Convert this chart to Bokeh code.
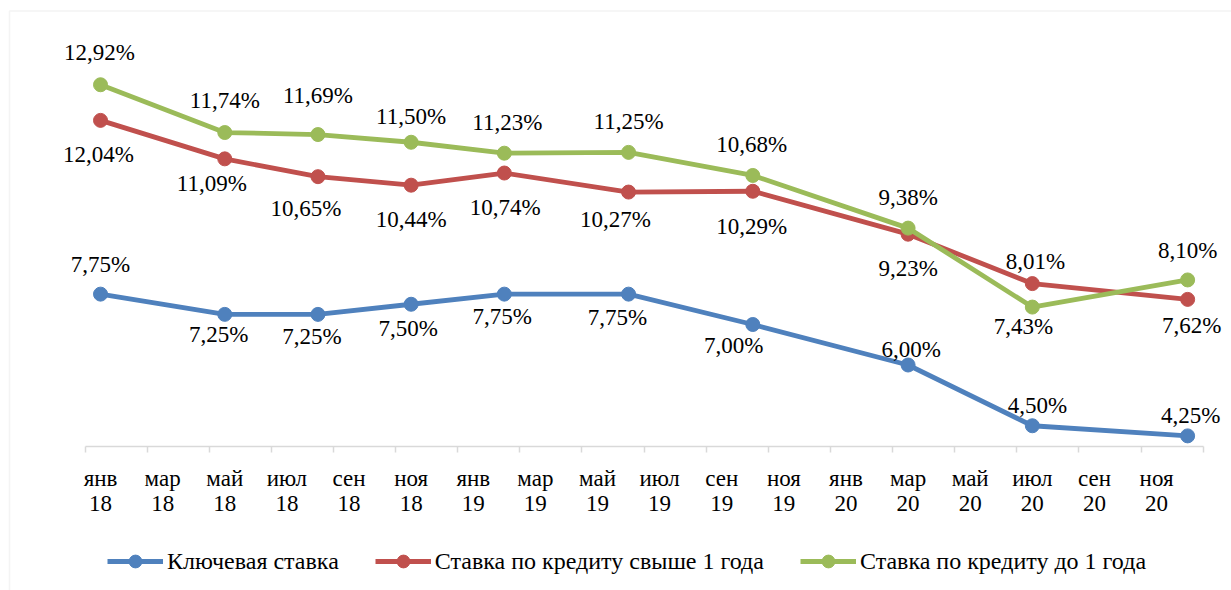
from bokeh.plotting import figure
from bokeh.models import Range1d, FixedTicker, BoxAnnotation, Legend, LegendItem, ColumnDataSource
from bokeh.core.properties import value
from bokeh.embed import file_html
from bokeh.resources import INLINE

# ---- data ----
dates = ["2018-01", "2018-05", "2018-08", "2018-11", "2019-02",
         "2019-06", "2019-10", "2020-03", "2020-07", "2020-12"]
key_rate = [7.75, 7.25, 7.25, 7.50, 7.75, 7.75, 7.00, 6.00, 4.50, 4.25]
loan_over_1y = [12.04, 11.09, 10.65, 10.44, 10.74, 10.27, 10.29, 9.23, 8.01, 7.62]
loan_under_1y = [12.92, 11.74, 11.69, 11.50, 11.23, 11.25, 10.68, 9.38, 7.43, 8.10]
series_names = ["Ключевая ставка", "Ставка по кредиту свыше 1 года", "Ставка по кредиту до 1 года"]
tick_months = ["янв", "мар", "май", "июл", "сен", "ноя"]
tick_years = ["18", "19", "20"]

# ---- layout / style ----
W, H = 1231, 590
colors = ["#4F81BD", "#C0504D", "#9BBB59"]
FONT = "Liberation Serif"
FS = "23px"
# pixel geometry of the plotting area (canvas px)
X_LEFT, PX_MONTH = 84.5, 31.06      # left edge of axis, px per month
Y_BASE, PX_UNIT = 445.5, 40.5       # y pixel of value 4 %, px per 1 %
Y_MIN = 4.0
# label placement (dx, dy) in screen px: centre of label digits relative to point
label_pos = [
    [(0, -29), (-6, 21), (-6, 23), (-3, 25), (-2, 23), (-11, 24), (-19, 22), (3, -15), (5, -19), (3, -19)],
    [(-2, 35), (-13, 26), (-12, 33), (0, 35), (1, 35), (-13, 28), (-1, 36), (0, 35), (3, -21), (4, 27)],
    [(-1, -31), (0, -31), (0, -38), (0, -25), (3, -30), (0, -30), (-1, -30), (0, -30), (-9, 20), (0, -28)],
]


def month_index(d):
    y, m = d.split("-")
    return (int(y) - 2018) * 12 + int(m) - 1


xs = [month_index(d) + 0.5 for d in dates]

x_range = Range1d(-X_LEFT / PX_MONTH, (W - X_LEFT) / PX_MONTH)
y_range = Range1d(Y_MIN - (H - Y_BASE) / PX_UNIT, Y_MIN + Y_BASE / PX_UNIT)

p = figure(width=W, height=H, output_backend="svg", toolbar_location=None,
           x_range=x_range, y_range=y_range,
           min_border_left=0, min_border_right=0, min_border_top=0, min_border_bottom=0,
           y_axis_location=None)
p.outline_line_color = None
p.xgrid.visible = False
p.ygrid.visible = False
p.background_fill_color = "white"
p.border_fill_color = "white"

# x axis (drawn at 4 %, limited to the 36 months)
major = [m + 0.5 for m in range(0, 36, 2)]
labels = {}
for i, t in enumerate(major):
    labels[t] = tick_months[i % 6] + "\n" + tick_years[i // 6]
ax = p.xaxis[0]
ax.fixed_location = Y_MIN
ax.bounds = (0, 36)
ax.ticker = FixedTicker(ticks=major, minor_ticks=list(range(0, 37, 2)))
ax.major_label_overrides = labels
ax.major_tick_line_color = None
ax.major_tick_out = 0
ax.major_tick_in = 0
ax.minor_tick_line_color = "#D9D9D9"
ax.minor_tick_line_width = 1.5
ax.minor_tick_out = 6
ax.minor_tick_in = 0
ax.axis_line_color = "#D9D9D9"
ax.axis_line_width = 1.5
ax.major_label_text_font = FONT
ax.major_label_text_font_size = FS
ax.major_label_text_color = "#000000"
ax.major_label_text_line_height = 1.0
ax.major_label_standoff = 14

series = [key_rate, loan_over_1y, loan_under_1y]
items = []
for k, vals in enumerate(series):
    src = ColumnDataSource(dict(x=xs, y=vals))
    lr = p.line("x", "y", source=src, line_color=colors[k], line_width=4.8)
    sr = p.scatter("x", "y", source=src, size=14, fill_color=colors[k], line_color=colors[k])
    items.append(LegendItem(label=series_names[k], renderers=[lr, sr]))

for k, vals in enumerate(series):
    txt = [("%.2f" % v).replace(".", ",") + "%" for v in vals]
    dx = [a for a, b in label_pos[k]]
    dy = [b - 1 for a, b in label_pos[k]]
    src = ColumnDataSource(dict(x=xs, y=vals, t=txt, dx=dx, dy=dy))
    p.text("x", "y", text="t", source=src, x_offset="dx", y_offset="dy",
           text_align="center", text_baseline="alphabetic",
           text_font=value(FONT), text_font_size=FS, text_color="#000000")

legend = Legend(items=items, orientation="horizontal", location=(107, 13),
                glyph_width=56, glyph_height=32, label_standoff=4, spacing=36,
                padding=0, margin=0, border_line_color=None, background_fill_alpha=0,
                label_text_font=FONT, label_text_font_size="24px", label_text_color="#000000",
                label_height=32)
p.add_layout(legend, "center")

border = BoxAnnotation(left=9, right=3000, top=10.5, bottom=3000,
                       left_units="canvas", right_units="canvas",
                       top_units="canvas", bottom_units="canvas",
                       fill_alpha=0, line_color="#D9D9D9", line_width=1.5)
p.add_layout(border)

open("out.html", "w").write(file_html(p, INLINE))
